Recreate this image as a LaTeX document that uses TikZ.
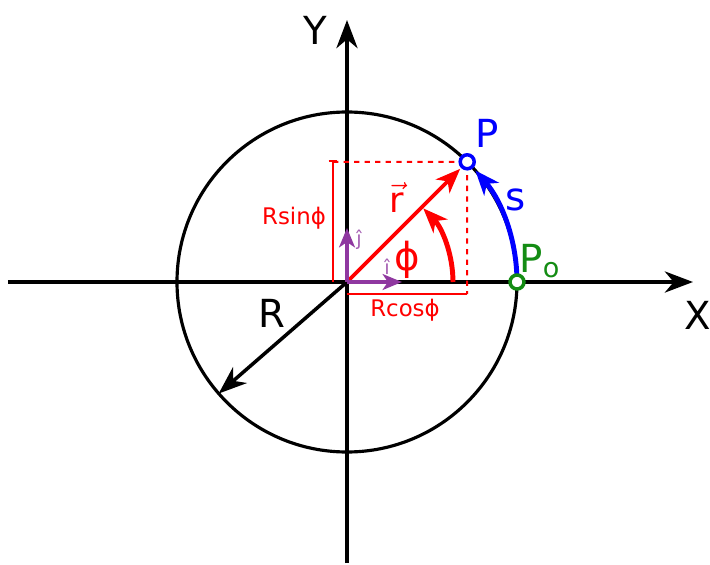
\documentclass[tikz,border=0pt]{standalone}
\usepackage{fontspec}
\setmainfont{DejaVu Sans}
\usetikzlibrary{arrows.meta}
\definecolor{unitviolet}{RGB}{143,56,160}
\definecolor{pogreen}{RGB}{20,140,20}
\begin{document}
\begin{tikzpicture}[>={Stealth[length=16pt,width=12pt,inset=5pt]},
		big/.style={font=\fontsize{22}{26}\selectfont},
		proj/.style={font=\fontsize{13}{15}\selectfont, text=red},
		unitlab/.style={font=\fontsize{11}{12}\selectfont, text=unitviolet!80},
		dot/.style={circle, fill=white, line width=2pt, inner sep=0pt, minimum size=0.28cm}]
			\useasboundingbox (-6.94,-5.64) rectangle (7.26,5.64);

			% Оси
			\coordinate (O) at (0,0);
			\coordinate (Xbeg) at (-6.78,0);
			\coordinate (Xend) at (6.92,0);
			\coordinate (Ybeg) at (0,-5.62);
			\coordinate (Yend) at (0,5.24);
			\draw[->, line width=2.2pt] (Xbeg) -- (Xend);
			\draw[->, line width=2.2pt] (Ybeg) -- (Yend);
			\node[big] (Xlab) at (7.02,-0.66) {X};
			\node[big] (Ylab) at (-0.64,5.04) {Y};

			% Окружность
			\draw[line width=1.8pt] (O) circle (3.4);
			\coordinate (P) at (45:3.4);
			\coordinate (Po) at (3.4,0);
			\coordinate (Rend) at (221:3.4);
			\draw[->, line width=2pt] (O) -- (Rend);
			\node[big] (Rlab) at (-1.5,-0.62) {R};

			% Проекции
			\coordinate (Ox) at (0,-0.24);
			\coordinate (Px) at (2.404,-0.24);
			\coordinate (Sy0) at (-0.28,0);
			\coordinate (Sy) at (-0.28,2.44);
			\coordinate (Sd) at (-0.28,2.404);
			\draw[red, dashed, line width=1.1pt] (Sd) -- (P) -- (Px);
			\draw[red, line width=1.1pt] (Ox) -- (Px);
			\draw[red, line width=1.1pt, -{Bar[width=5pt]}] (Sy0) -- (Sy);
			\node[proj] (sinlab) at (-1.06,1.28) {Rsinϕ};
			\node[proj] (coslab) at (1.16,-0.56) {Rcosϕ};

			% Угол и радиус-вектор
			\coordinate (A0) at (2.12,0);
			\draw[red, -{Stealth[length=14pt,width=11pt,inset=4pt]}, line width=2.8pt] (A0) arc[start angle=0, end angle=44, radius=2.12];
			\draw[red, -{Stealth[length=14pt,width=11pt,inset=4pt]}, line width=2.2pt, shorten >=0.2cm] (O) -- (P);
			\node[big, text=red] (philab) at (1.2,0.44) {ϕ};
			\node[font=\fontsize{20}{24}\selectfont, text=red, inner sep=1pt] (rlab) at (0.99,1.68) {$\vec{\mbox{r}}$};

			% Орты
			\coordinate (Iend) at (1.1,0);
			\coordinate (Jend) at (0,1.08);
			\foreach \e in {Iend, Jend}
					\draw[unitviolet, -{Stealth[length=11pt,width=9pt,inset=3pt]}, line width=2.4pt] (O) -- (\e);
			\node[unitlab] (ilab) at (0.8,0.3) {î};
			\node[unitlab] (jlab) at (0.24,0.84) {ĵ};

			% Дуга s
			\draw[blue, -{Stealth[length=14pt,width=11pt,inset=4pt]}, line width=2.8pt] (Po) arc[start angle=0, end angle=41, radius=3.4];
			\node[big, text=blue] (slab) at (3.38,1.64) {s};

			% Точки
			\node[dot, draw=blue] (Pdot) at (P) {};
			\node[dot, draw=pogreen] (Podot) at (Po) {};
			\node[big, text=blue] (Plab) at (2.8,2.98) {P};
			\node[big, text=pogreen] (Polab) at (3.86,0.42) {P\textsubscript{o}};
		\end{tikzpicture}
\end{document}
